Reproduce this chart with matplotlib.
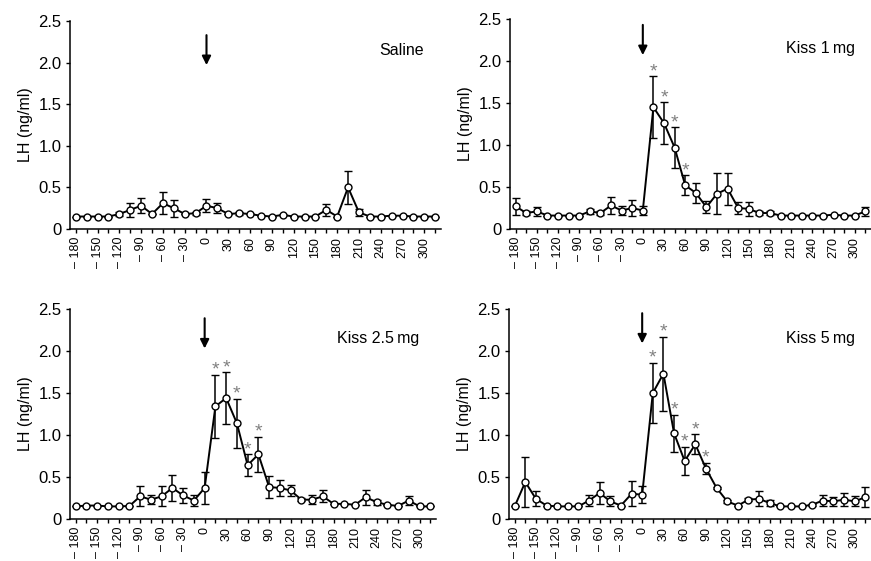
import numpy as np
import matplotlib
matplotlib.use('Agg')
import matplotlib.pyplot as plt

plt.rcParams['font.family'] = ['Liberation Sans', 'DejaVu Sans']

# sampling times (min), one sample every 15 min
times = np.arange(-180, 316, 15)
tick_vals = list(range(-180, 301, 30))
tick_labels = [('\u2013 ' + str(-t)) if t < 0 else str(t) for t in tick_vals]

saline_mean = [0.15, 0.15, 0.15, 0.15, 0.18, 0.23, 0.28, 0.18, 0.31, 0.25, 0.18, 0.19,
               0.28, 0.25, 0.18, 0.19, 0.18, 0.16, 0.15, 0.17, 0.15, 0.15, 0.15, 0.23,
               0.15, 0.50, 0.20, 0.15, 0.15, 0.16, 0.16, 0.15, 0.15, 0.15]
saline_sem = [0, 0, 0, 0, 0.02, 0.08, 0.09, 0, 0.13, 0.10, 0, 0.02,
              0.08, 0.06, 0, 0.02, 0, 0, 0, 0, 0, 0, 0, 0.07,
              0, 0.20, 0.04, 0, 0, 0, 0, 0, 0, 0]

kiss1_mean = [0.27, 0.19, 0.21, 0.16, 0.16, 0.16, 0.16, 0.21, 0.19, 0.28, 0.22, 0.25,
              0.22, 1.45, 1.26, 0.97, 0.52, 0.43, 0.26, 0.42, 0.48, 0.25, 0.24, 0.19,
              0.19, 0.16, 0.16, 0.16, 0.16, 0.16, 0.17, 0.16, 0.16, 0.21]
kiss1_sem = [0.10, 0.02, 0.05, 0, 0, 0, 0, 0.03, 0.02, 0.10, 0.05, 0.09,
             0.05, 0.37, 0.25, 0.24, 0.12, 0.12, 0.07, 0.245, 0.19, 0.07, 0.08, 0.02,
             0.02, 0, 0, 0, 0, 0, 0, 0, 0, 0.05]

kiss25_mean = [0.15, 0.16, 0.16, 0.15, 0.15, 0.155, 0.27, 0.23, 0.27, 0.37, 0.28, 0.22,
               0.37, 1.34, 1.44, 1.14, 0.64, 0.77, 0.38, 0.37, 0.34, 0.23, 0.23, 0.27,
               0.18, 0.18, 0.17, 0.26, 0.20, 0.17, 0.155, 0.22, 0.15, 0.15]
kiss25_sem = [0, 0, 0, 0, 0, 0, 0.12, 0.05, 0.12, 0.15, 0.09, 0.06,
              0.19, 0.38, 0.31, 0.29, 0.13, 0.21, 0.13, 0.10, 0.07, 0.02, 0.05, 0.07,
              0, 0, 0, 0.09, 0.03, 0, 0, 0.05, 0, 0]

kiss5_mean = [0.15, 0.44, 0.24, 0.16, 0.15, 0.15, 0.15, 0.22, 0.31, 0.21, 0.16, 0.30,
              0.29, 1.50, 1.73, 1.02, 0.69, 0.89, 0.60, 0.37, 0.21, 0.16, 0.23, 0.24,
              0.19, 0.15, 0.15, 0.15, 0.17, 0.22, 0.21, 0.23, 0.21, 0.26]
kiss5_sem = [0, 0.30, 0.09, 0, 0, 0, 0, 0.06, 0.13, 0.06, 0, 0.15,
             0.10, 0.36, 0.44, 0.22, 0.17, 0.12, 0.07, 0.01, 0.02, 0, 0.02, 0.09,
             0.04, 0, 0, 0, 0.01, 0.07, 0.05, 0.08, 0.06, 0.12]

# time points marked as significant
saline_sig = []
kiss1_sig = [15, 30, 45, 60]
kiss25_sig = [15, 30, 45, 60, 75]
kiss5_sig = [15, 30, 45, 60, 75, 90]

names = ['Saline', 'Kiss 1\u2009mg', 'Kiss 2.5\u2009mg', 'Kiss 5\u2009mg']

panels = [
    (saline_mean, saline_sem, saline_sig, [70, 229, 441, 21], 2.33),
    (kiss1_mean, kiss1_sem, kiss1_sig, [510, 229, 871, 19], 2.43),
    (kiss25_mean, kiss25_sem, kiss25_sig, [70, 519, 436, 309], 2.39),
    (kiss5_mean, kiss5_sem, kiss5_sig, [509, 519, 871, 309], 2.45),
]

W, H = 871, 561
fig = plt.figure(figsize=(W / 100, H / 100), dpi=100)

for name, (mean, sem, sig, box, arrow_top) in zip(names, panels):
    l, b, r, t = box
    ax = fig.add_axes([l / W, 1 - b / H, (r - l) / W, (b - t) / H])
    ax.errorbar(times, mean, yerr=sem, color='black', lw=1.4, elinewidth=1.1,
                capsize=3, capthick=1.1, marker='o', markersize=5,
                markerfacecolor='white', markeredgecolor='black',
                markeredgewidth=1.0, clip_on=False, zorder=3)
    for tt in sig:
        i = list(times).index(tt)
        ax.text(tt, mean[i] + sem[i] + 0.0, '*', color='#808080',
                fontsize=14, ha='center', va='baseline')
    ax.annotate('', xy=(0, arrow_top - 0.36), xytext=(0, arrow_top),
                arrowprops=dict(arrowstyle='-|>', color='black', lw=1.5,
                                mutation_scale=13, shrinkA=0, shrinkB=0))
    ax.text(0.955, 0.86, name, transform=ax.transAxes, ha='right',
            va='center', fontsize=11.5)

    ax.set_xlim(-188, 323)
    ax.set_ylim(0, 2.5)
    ax.set_yticks([0, 0.5, 1.0, 1.5, 2.0, 2.5])
    ax.set_yticklabels(['0', '0.5', '1.0', '1.5', '2.0', '2.5'], fontsize=12)
    ax.set_xticks(tick_vals)
    ax.set_xticklabels(tick_labels, rotation=90, fontsize=9)
    ax.set_xticks(times, minor=True)
    ax.tick_params(axis='x', which='both', length=3, width=1, pad=2.5)
    ax.tick_params(axis='y', length=3, width=1, pad=3)
    ax.set_ylabel('LH (ng/ml)', fontsize=11.5, labelpad=4)
    ax.spines['top'].set_visible(False)
    ax.spines['right'].set_visible(False)
    ax.spines['left'].set_linewidth(1.1)
    ax.spines['bottom'].set_linewidth(1.1)

plt.savefig('out.png', dpi=100)
